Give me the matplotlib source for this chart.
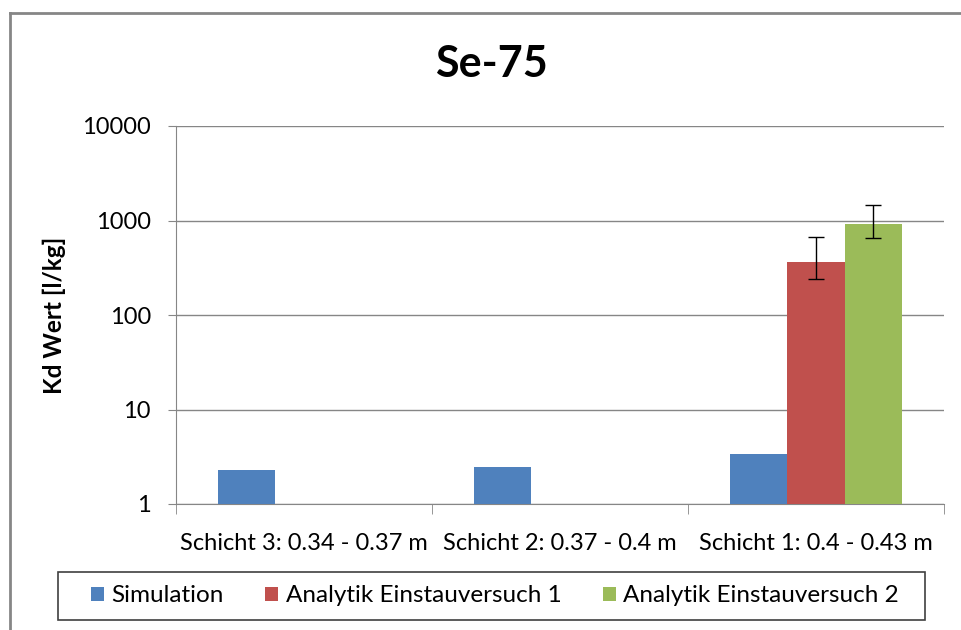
import numpy as np
import matplotlib.pyplot as plt
from matplotlib.patches import Rectangle

plt.rcParams['font.family'] = ['Lato', 'DejaVu Sans']

categories = ["Schicht 3: 0.34 - 0.37 m", "Schicht 2: 0.37 - 0.4 m", "Schicht 1: 0.4 - 0.43 m"]
simulation = [2.3, 2.45, 3.35]
einstau1 = [np.nan, np.nan, 365]
einstau2 = [np.nan, np.nan, 925]
einstau1_err_low = [0, 0, 125]
einstau1_err_high = [0, 0, 305]
einstau2_err_low = [0, 0, 280]
einstau2_err_high = [0, 0, 530]
series_names = ["Simulation", "Analytik Einstauversuch 1", "Analytik Einstauversuch 2"]
colors = ["#4F81BD", "#C0504D", "#9BBB59"]

fig = plt.figure(figsize=(9.62, 6.30), dpi=100)
ax = fig.add_axes([176/962, 1 - 504/630, 768/962, 378/630])

x = np.arange(len(categories))
w = 0.223
ax.bar(x - w, simulation, w, color=colors[0], label=series_names[0], zorder=3)
ax.bar(x, einstau1, w, color=colors[1], label=series_names[1], zorder=3)
ax.bar(x + w, einstau2, w, color=colors[2], label=series_names[2], zorder=3)
ax.errorbar(x[2:], einstau1[2:], yerr=[einstau1_err_low[2:], einstau1_err_high[2:]],
            fmt="none", ecolor="black", elinewidth=1, capsize=6, capthick=1, zorder=4)
ax.errorbar(x[2:] + w, einstau2[2:], yerr=[einstau2_err_low[2:], einstau2_err_high[2:]],
            fmt="none", ecolor="black", elinewidth=1, capsize=6, capthick=1, zorder=4)

ax.set_yscale("log")
ax.set_ylim(1, 10000)
ax.set_xlim(-0.5, 2.5)
ax.set_yticks([1, 10, 100, 1000, 10000])
ax.set_yticklabels(["1", "10", "100", "1000", "10000"], fontsize=17)
ax.yaxis.set_minor_locator(plt.NullLocator())
ax.grid(axis="y", color="#868686", linewidth=1, zorder=0)

ax.set_xticks(x)
ax.set_xticklabels(categories, fontsize=17)
ax.set_xticks([-0.5, 0.5, 1.5, 2.5], minor=True)
ax.tick_params(axis="x", which="major", length=0, pad=21)
ax.tick_params(axis="x", which="minor", length=7, color="#868686")
ax.tick_params(axis="y", length=6, color="#868686", pad=12)

for s in ["top", "right"]:
    ax.spines[s].set_visible(False)
ax.spines["left"].set_color("#868686")
ax.spines["bottom"].set_color("#868686")

ax.set_ylabel("Kd Wert [l/kg]", fontsize=17.5, fontweight="bold", labelpad=12)
fig.suptitle("Se-75", x=491/962, y=1 - 64/630, va="center", fontsize=31, fontweight="bold")

# outer chart border (only top and left visible)
fig.add_artist(plt.Line2D([10/962, 10/962], [0, 1 - 13/630], transform=fig.transFigure, color="#868686", lw=2))
fig.add_artist(plt.Line2D([10/962, 1], [1 - 13/630, 1 - 13/630], transform=fig.transFigure, color="#868686", lw=2))

# legend box
fig.add_artist(Rectangle((58/962, 1 - 620/630), 867/962, 48/630, transform=fig.transFigure,
                         fill=False, edgecolor="#404040", lw=1.2))
fig.legend(loc="center", bbox_to_anchor=(495/962, 1 - 596/630), ncol=3, frameon=False,
           fontsize=17.5, handlelength=0.55, handleheight=0.55, handletextpad=0.3, columnspacing=1.7)

fig.savefig("out.png", dpi=100)
